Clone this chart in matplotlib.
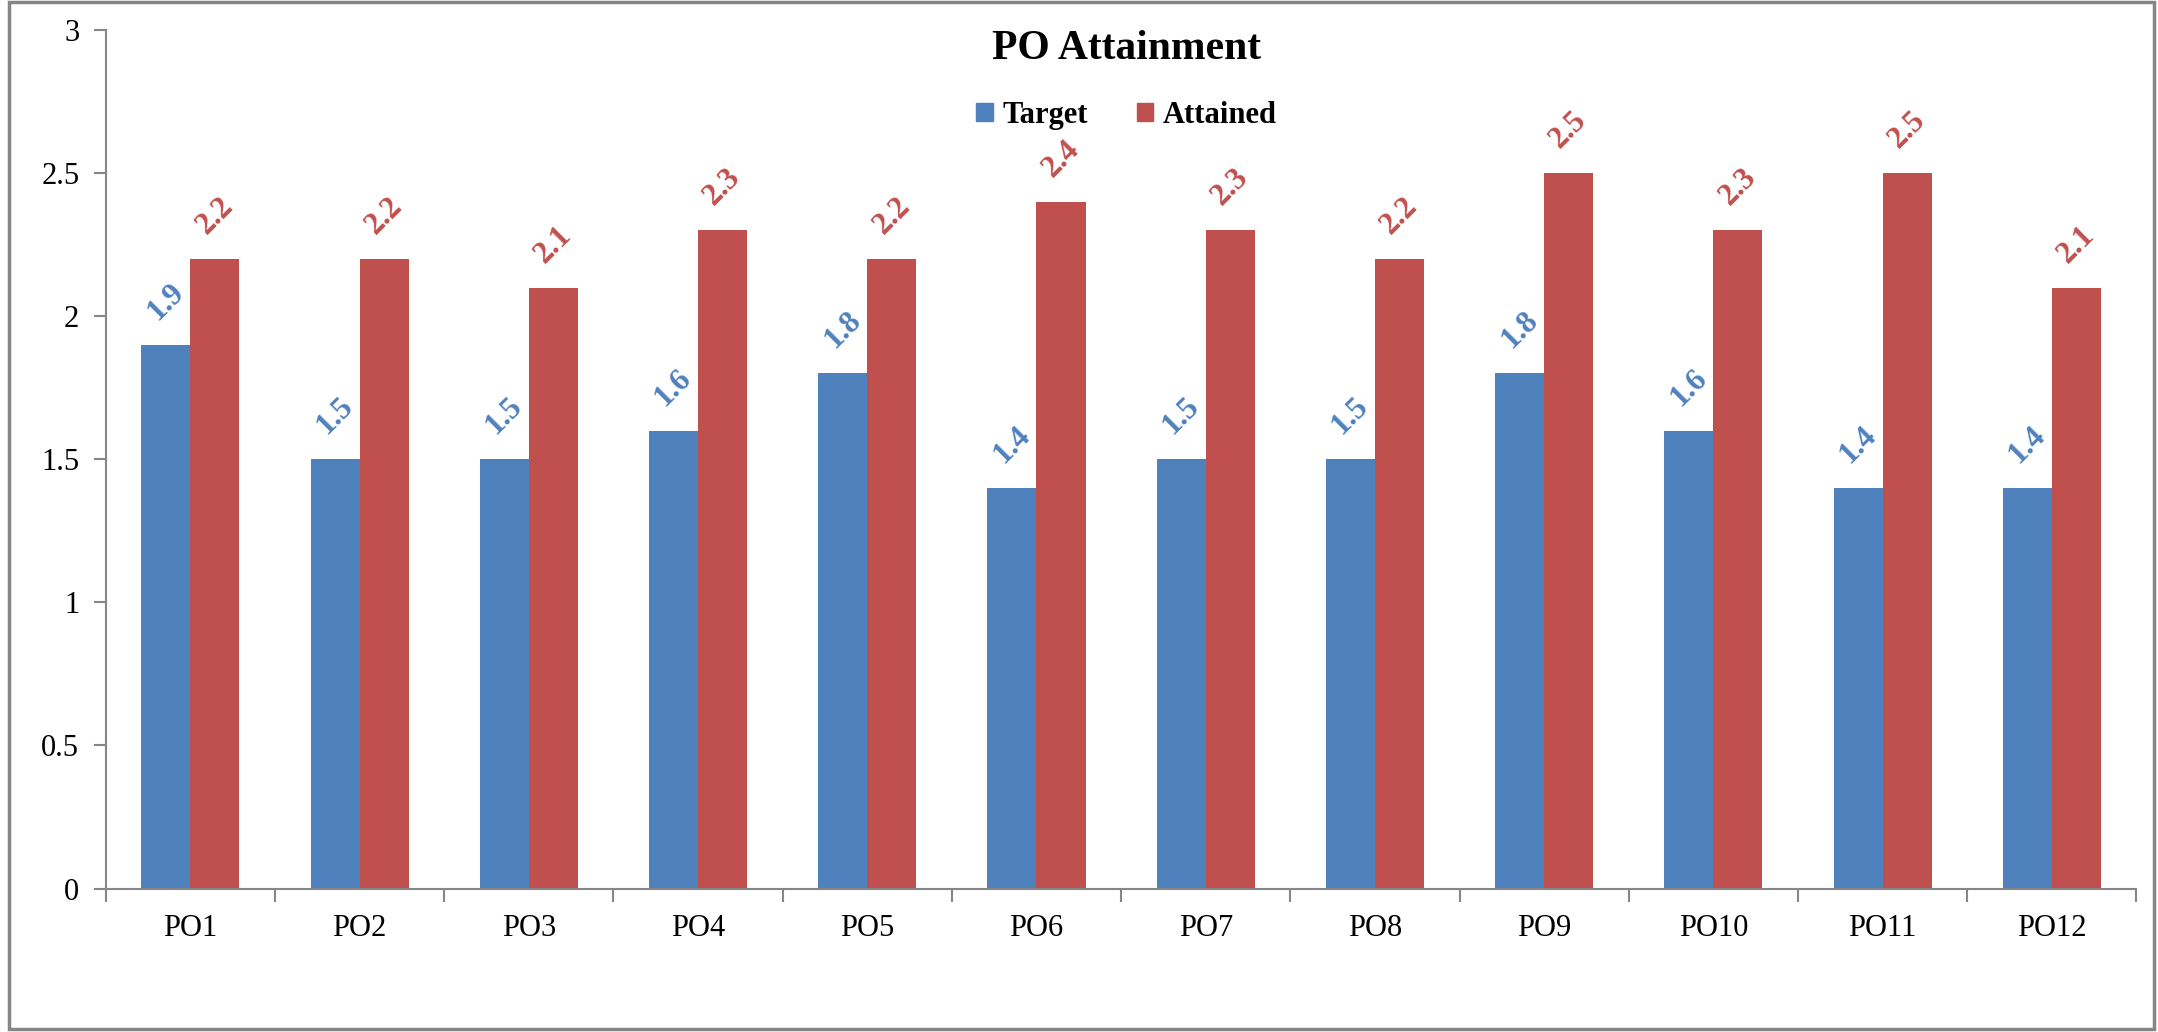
import matplotlib.pyplot as plt
import numpy as np
from matplotlib.patches import Rectangle, Patch

# data
categories = ["PO1", "PO2", "PO3", "PO4", "PO5", "PO6",
              "PO7", "PO8", "PO9", "PO10", "PO11", "PO12"]
target = [1.9, 1.5, 1.5, 1.6, 1.8, 1.4, 1.5, 1.5, 1.8, 1.6, 1.4, 1.4]
attained = [2.2, 2.2, 2.1, 2.3, 2.2, 2.4, 2.3, 2.2, 2.5, 2.3, 2.5, 2.1]
series_names = ["Target", "Attained"]
y_ticks = [0, 0.5, 1, 1.5, 2, 2.5, 3]

blue = "#4F81BD"
red = "#C0504D"
axis_grey = "#868686"

plt.rcParams['font.family'] = ['Liberation Serif', 'DejaVu Serif']

fig = plt.figure(figsize=(21.58, 10.32), dpi=100)
ax = fig.add_axes([0.049, 0.139, 0.941, 0.832])

x = np.arange(len(categories))
w = 0.29
bars_t = ax.bar(x - w / 2, target, w, color=blue, edgecolor="none")
bars_a = ax.bar(x + w / 2, attained, w, color=red, edgecolor="none")

# rotated data labels above each bar
for bars, vals, col in [(bars_t, target, blue), (bars_a, attained, red)]:
    for b, v in zip(bars, vals):
        ax.annotate(f"{v:g}", (b.get_x() + b.get_width() / 2, v),
                    xytext=(0, 31), textcoords="offset points",
                    ha="center", va="center", rotation=45,
                    color=col, fontsize=22.5, fontweight="bold")

ax.set_xlim(-0.5, len(categories) - 0.5)
ax.set_ylim(0, 3)
ax.set_yticks(y_ticks)
ax.set_yticklabels([f"{t:g}" for t in y_ticks])
ax.set_xticks(x)
ax.set_xticklabels(categories)
ax.set_xticks(np.arange(len(categories) + 1) - 0.5, minor=True)

ax.tick_params(axis="x", which="major", length=0, pad=18, labelsize=22)
ax.tick_params(axis="x", which="minor", length=9, width=1.5, color=axis_grey)
ax.tick_params(axis="y", length=9, width=1.5, color=axis_grey, labelsize=22, pad=10)

for s in ["top", "right"]:
    ax.spines[s].set_visible(False)
for s in ["left", "bottom"]:
    ax.spines[s].set_color(axis_grey)
    ax.spines[s].set_linewidth(1.5)

fig.text(0.522, 0.953, "PO Attainment", ha="center", va="center",
         fontsize=30, fontweight="bold")

handles = [Patch(color=blue), Patch(color=red)]
fig.legend(handles, series_names, loc="center", bbox_to_anchor=(0.522, 0.888),
           ncol=2, frameon=False, handlelength=0.55, handleheight=0.55,
           handletextpad=0.3, columnspacing=1.6,
           prop={"size": 22, "weight": "bold"})

# outer chart border
fig.patches.append(Rectangle((0.004, 0.003), 0.994, 0.995, transform=fig.transFigure,
                             fill=False, edgecolor=axis_grey, linewidth=2.5))

fig.savefig("out.png", dpi=100)
